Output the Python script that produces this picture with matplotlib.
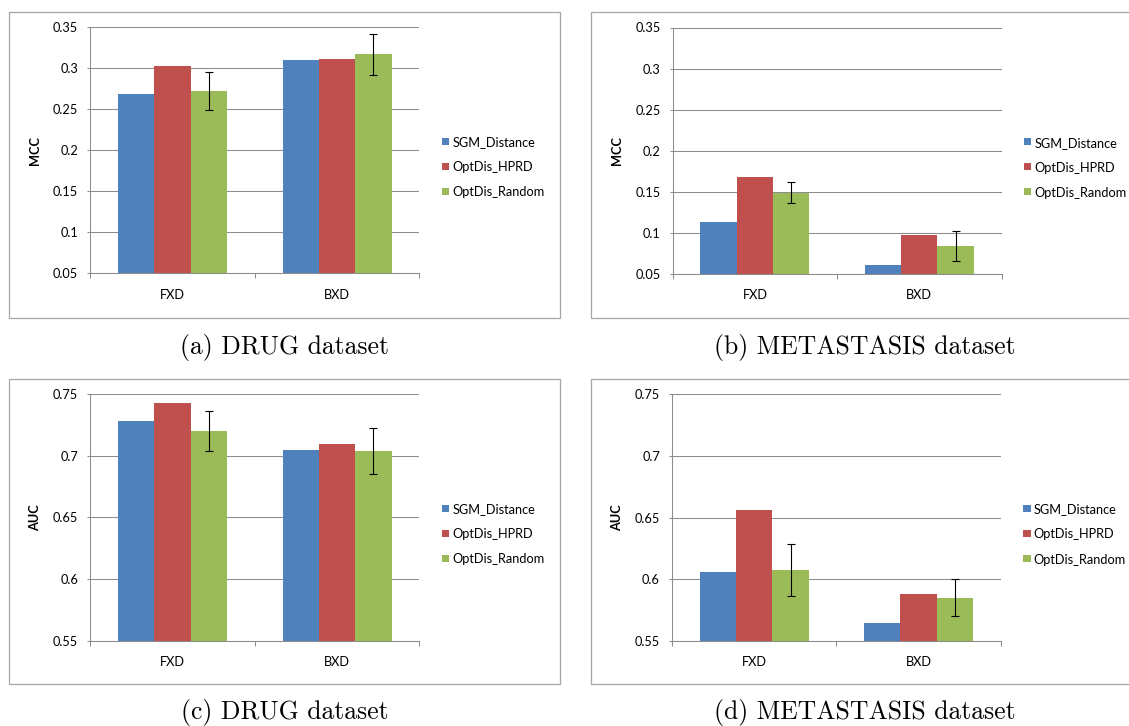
import matplotlib
matplotlib.use("Agg")
import matplotlib.pyplot as plt
from matplotlib.patches import Rectangle
import numpy as np

# ---- data ----
categories = ["FXD", "BXD"]
series = ["SGM_Distance", "OptDis_HPRD", "OptDis_Random"]
colors = ["#4F81BD", "#C0504D", "#9BBB59"]

drug_mcc_sgm = [0.269, 0.310]
drug_mcc_hprd = [0.303, 0.311]
drug_mcc_rand = [0.272, 0.317]
drug_mcc_rand_err = [0.023, 0.025]

meta_mcc_sgm = [0.113, 0.061]
meta_mcc_hprd = [0.168, 0.097]
meta_mcc_rand = [0.149, 0.084]
meta_mcc_rand_err = [0.0126, 0.0183]

drug_auc_sgm = [0.728, 0.7045]
drug_auc_hprd = [0.743, 0.7095]
drug_auc_rand = [0.720, 0.704]
drug_auc_rand_err = [0.0164, 0.0184]

meta_auc_sgm = [0.606, 0.564]
meta_auc_hprd = [0.656, 0.588]
meta_auc_rand = [0.6075, 0.585]
meta_auc_rand_err = [0.021, 0.0147]

mcc_ticks = [0.05, 0.1, 0.15, 0.2, 0.25, 0.3, 0.35]
auc_ticks = [0.55, 0.6, 0.65, 0.7, 0.75]

captions = ["(a) DRUG dataset", "(b) METASTASIS dataset",
            "(c) DRUG dataset", "(d) METASTASIS dataset"]

# ---- layout (pixels, origin top-left) ----
W, H = 1129, 726
fig = plt.figure(figsize=(W / 100, H / 100), dpi=100)
fig.patch.set_facecolor("white")

UI_FONT = "Lato"
UI_SIZE = 9.2
GRID = "#8c8c8c"
FRAME = "#a6a6a6"


def fx(x):
    return x / W


def fy(y):
    return 1 - y / H


def add_panel(ax_box, frame_box, cap_xy, ylabel, ticks, sgm, hprd, rand, rand_err, caption):
    x0, y0, x1, y1 = ax_box
    ax = fig.add_axes([fx(x0), fy(y1), (x1 - x0) / W, (y1 - y0) / H])
    bw = 0.221
    x = np.arange(len(categories))
    vals = [sgm, hprd, rand]
    for i, (v, c) in enumerate(zip(vals, colors)):
        ax.bar(x + (i - 1) * bw, v, width=bw, color=c, edgecolor="none",
               bottom=0, zorder=3)
    ax.errorbar(x + bw, rand, yerr=rand_err, fmt="none", ecolor="black",
                elinewidth=0.8, capsize=2.6, capthick=0.8, zorder=4)

    ax.set_xlim(-0.5, len(categories) - 0.5)
    ax.set_ylim(ticks[0], ticks[-1])
    ax.set_yticks(ticks)
    ax.set_yticklabels([f"{t:g}" for t in ticks], fontsize=UI_SIZE, family=UI_FONT)
    ax.yaxis.grid(True, color=GRID, linewidth=0.75, zorder=0)
    ax.set_axisbelow(True)

    ax.set_xticks(np.arange(-0.5, len(categories), 1.0))
    ax.set_xticklabels([])
    ax.set_xticks(x, minor=True)
    ax.set_xticklabels(categories, minor=True, fontsize=UI_SIZE, family=UI_FONT)
    ax.tick_params(axis="x", which="major", direction="out", length=3.6,
                   color=GRID, width=0.75)
    ax.tick_params(axis="x", which="minor", length=0, pad=11)
    ax.tick_params(axis="y", direction="out", length=2.2, color=GRID,
                   width=0.75, pad=6.5)

    for s in ("top", "right"):
        ax.spines[s].set_visible(False)
    for s in ("left", "bottom"):
        ax.spines[s].set_color(GRID)
        ax.spines[s].set_linewidth(0.75)
    ax.spines["bottom"].set_zorder(5)

    ax.set_ylabel(ylabel, fontsize=UI_SIZE, fontweight="bold", family=UI_FONT)
    ax.yaxis.set_label_coords(-0.15, 0.5)

    # legend keys
    lx = x1 + 22.5
    for i, (name, c) in enumerate(zip(series, colors)):
        ly = (y0 + y1) / 2 - 9 + i * 25
        fig.add_artist(Rectangle((fx(lx), fy(ly + 3.7)), 7.3 / W, 7.3 / H,
                                 transform=fig.transFigure, facecolor=c,
                                 edgecolor="none"))
        fig.text(fx(lx + 10.5), fy(ly), name, fontsize=UI_SIZE, family=UI_FONT,
                 ha="left", va="center_baseline")

    fxa, fya, fxb, fyb = frame_box
    fig.add_artist(Rectangle((fx(fxa), fy(fyb)), (fxb - fxa) / W, (fyb - fya) / H,
                             transform=fig.transFigure, facecolor="none",
                             edgecolor=FRAME, linewidth=0.9))
    fig.text(fx(cap_xy[0]), fy(cap_xy[1]), caption, fontsize=18.5,
             family="cmr10", ha="center", va="center")
    return ax


add_panel((90.3, 27.3, 419.3, 273.3), (9.3, 12, 560, 318.3), (284.6, 348),
          "MCC", mcc_ticks, drug_mcc_sgm, drug_mcc_hprd, drug_mcc_rand,
          drug_mcc_rand_err, captions[0])
add_panel((672.7, 27.5, 1001.5, 274), (590.5, 12, 1140, 318.3), (865, 348),
          "MCC", mcc_ticks, meta_mcc_sgm, meta_mcc_hprd, meta_mcc_rand,
          meta_mcc_rand_err, captions[1])
add_panel((90.3, 394.3, 419.3, 640.5), (9.3, 379, 560, 684.3), (284.6, 713),
          "AUC", auc_ticks, drug_auc_sgm, drug_auc_hprd, drug_auc_rand,
          drug_auc_rand_err, captions[2])
add_panel((672, 394.3, 1000.8, 640.7), (590.5, 379.3, 1140, 684.3), (865, 713),
          "AUC", auc_ticks, meta_auc_sgm, meta_auc_hprd, meta_auc_rand,
          meta_auc_rand_err, captions[3])

fig.savefig("out.png", dpi=100, facecolor="white")
